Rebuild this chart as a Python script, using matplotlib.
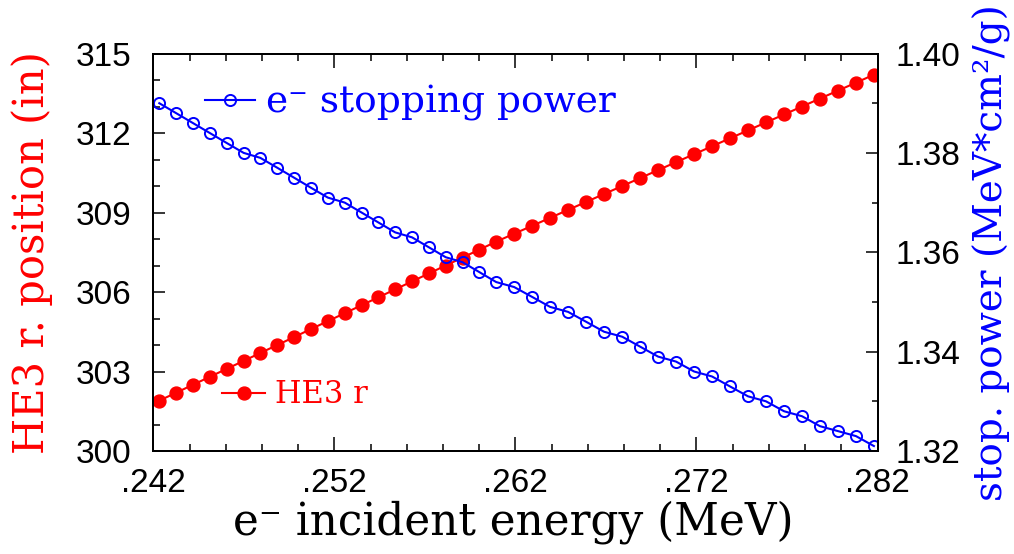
import matplotlib

matplotlib.use("Agg")
import matplotlib.pyplot as plt
from matplotlib.ticker import FuncFormatter, MultipleLocator

# e- incident energy (MeV) at each scan point
energy = [
    0.24233, 0.24326, 0.24419, 0.24512, 0.24605, 0.24699, 0.24791, 0.24885,
    0.24978, 0.25070, 0.25164, 0.25257, 0.25350, 0.25443, 0.25536, 0.25629,
    0.25722, 0.25815, 0.25908, 0.26001, 0.26094, 0.26193, 0.26293, 0.26392,
    0.26491, 0.26591, 0.26690, 0.26790, 0.26889, 0.26988, 0.27087, 0.27187,
    0.27286, 0.27385, 0.27485, 0.27584, 0.27684, 0.27783, 0.27882, 0.27982,
    0.28081, 0.28180,
]
# HE3 r. position (in)
he3_r = [
    301.9, 302.2, 302.5, 302.8, 303.1, 303.4, 303.7, 304.0, 304.3, 304.6,
    304.9, 305.2, 305.5, 305.8, 306.1, 306.4, 306.7, 307.0, 307.3, 307.6,
    307.9, 308.2, 308.5, 308.8, 309.1, 309.4, 309.7, 310.0, 310.3, 310.6,
    310.9, 311.2, 311.5, 311.8, 312.1, 312.4, 312.7, 313.0, 313.3, 313.6,
    313.9, 314.2,
]
# e- stopping power (MeV*cm2/g)
stop_power = [
    1.390, 1.388, 1.386, 1.384, 1.382, 1.380, 1.379, 1.377, 1.375, 1.373,
    1.371, 1.370, 1.368, 1.366, 1.364, 1.363, 1.361, 1.359, 1.358, 1.356,
    1.354, 1.353, 1.351, 1.349, 1.348, 1.346, 1.344, 1.343, 1.341, 1.339,
    1.338, 1.336, 1.335, 1.333, 1.331, 1.330, 1.328, 1.327, 1.325, 1.324,
    1.323, 1.321,
]
x_ticks = [0.242, 0.252, 0.262, 0.272, 0.282]

RED = "#ff0000"
BLUE = "#0000ff"
SERIF = ["DejaVu Serif", "Liberation Serif"]
SANS = ["Liberation Sans", "DejaVu Sans"]

fig = plt.figure(figsize=(10.14, 5.54), dpi=100)
ax = fig.add_axes([0.1512, 0.1859, 0.7142, 0.7175])
ax2 = ax.twinx()

ax.plot(energy, he3_r, "-o", color=RED, lw=1.5, ms=9.3, label="HE3 r")
ax2.plot(energy, stop_power, "-o", color=BLUE, lw=1.5, ms=8, mfc="none",
         mew=1.4, label="e\u207b stopping power")

ax.set_xlim(0.242, 0.282)
ax.set_ylim(300, 315)
ax2.set_ylim(1.32, 1.40)

ax.set_xticks(x_ticks)
ax.xaxis.set_minor_locator(MultipleLocator(0.002))
ax.xaxis.set_major_formatter(FuncFormatter(lambda v, _: f"{v:.3f}".lstrip("0")))
ax.yaxis.set_major_locator(MultipleLocator(3))
ax.yaxis.set_minor_locator(MultipleLocator(1))
ax2.yaxis.set_major_locator(MultipleLocator(0.02))
ax2.yaxis.set_minor_locator(MultipleLocator(0.01))
ax2.yaxis.set_major_formatter(FuncFormatter(lambda v, _: f"{v:.2f}"))

ax.tick_params(axis="x", which="both", direction="in", top=True, width=1.1,
               labelsize=24, pad=12)
ax.tick_params(axis="x", which="major", length=10)
ax.tick_params(axis="x", which="minor", length=5)
ax.tick_params(axis="y", which="both", direction="in", right=False, width=1.1,
               labelsize=24, pad=16)
ax.tick_params(axis="y", which="major", length=8.5)
ax.tick_params(axis="y", which="minor", length=5)
ax2.tick_params(axis="y", which="both", direction="in", left=False, width=1.1,
                labelsize=24, pad=13)
ax2.tick_params(axis="y", which="major", length=8.5)
ax2.tick_params(axis="y", which="minor", length=4.5)
for lab in ax.get_xticklabels() + ax.get_yticklabels() + ax2.get_yticklabels():
    lab.set_family(SANS)

for a in (ax, ax2):
    for sp in a.spines.values():
        sp.set_linewidth(1.4)

ax.set_xlabel("e\u207b incident energy (MeV)", family=SERIF, fontsize=31.5, va="center")
ax.xaxis.set_label_coords(0.497, -0.18)
ax.set_ylabel("HE3 r. position (in)", family=SERIF, fontsize=30, color=RED, va="center")
ax.yaxis.set_label_coords(-0.168, 0.498)
ax2.set_ylabel("stop. power (MeV*cm\u00b2/g)", family=SERIF, fontsize=28, color=BLUE,
               va="center", rotation=90)
ax2.yaxis.set_label_coords(1.158, 0.5)

leg1 = ax2.legend(loc="center left", bbox_to_anchor=(0.071, 0.875), frameon=False,
                  borderaxespad=0, borderpad=0, handlelength=1.35, handletextpad=0.28,
                  prop={"family": SERIF, "size": 27})
for t in leg1.get_texts():
    t.set_color(BLUE)
leg2 = ax.legend(loc="center left", bbox_to_anchor=(0.095, 0.141), frameon=False,
                 borderaxespad=0, borderpad=0, handlelength=1.4, handletextpad=0.33,
                 prop={"family": SERIF, "size": 22})
for t in leg2.get_texts():
    t.set_color(RED)

fig.savefig("out.png", dpi=100)
